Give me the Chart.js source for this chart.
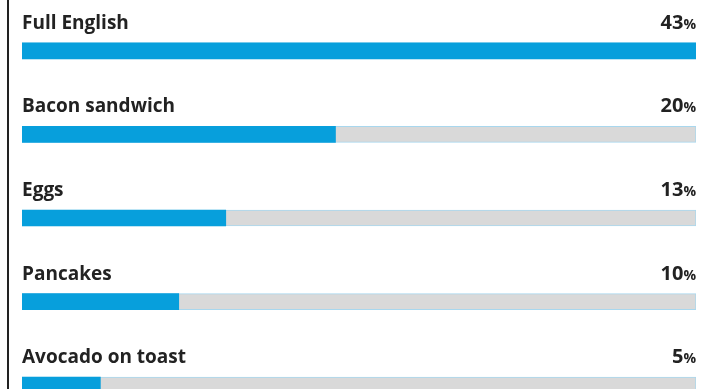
<!DOCTYPE html>
<html>
<head>
<meta charset="utf-8">
<style>
    html, body { margin: 0; padding: 0; background: #fff; overflow: hidden; }
    #wrap { position: relative; width: 716px; height: 389px; overflow: hidden; }
    #rule { position: absolute; left: 7px; top: 0; width: 1.5px; height: 389px; background: #222; }
    #box { position: absolute; left: 0; top: 0; width: 716px; height: 427px; }
</style>
</head>
<body>
<div id="wrap">
    <div id="rule"></div>
    <div id="box"><canvas id="breakfastChart"></canvas></div>
</div>
<script src="https://cdn.jsdelivr.net/npm/chart.js"></script>
<script>
    (() => {
        const dishes = ['Full English', 'Bacon sandwich', 'Eggs', 'Pancakes', 'Avocado on toast'];
        const shares = [43, 20, 13, 10, 5];
        const trackMax = 43;

        const blue = '#079fdc';
        const ink = '#222222';
        const font = '"Open Sans", "Liberation Sans", sans-serif';

        // name above each bar on the left, share on the right
        const barLabels = {
            id: 'barLabels',
            afterDatasetsDraw(chart) {
                const ctx = chart.ctx;
                const area = chart.chartArea;
                const bars = chart.getDatasetMeta(0).data;
                ctx.save();
                ctx.fillStyle = ink;
                ctx.textBaseline = 'alphabetic';
                bars.forEach((bar, i) => {
                    const base = bar.y - bar.height / 2 - 14;
                    ctx.font = 'bold 19px ' + font;
                    ctx.textAlign = 'left';
                    ctx.fillText(dishes[i], area.left, base);

                    ctx.font = 'bold 14px ' + font;
                    ctx.textAlign = 'right';
                    ctx.fillText('%', area.right, base);
                    const pw = ctx.measureText('%').width;
                    ctx.font = 'bold 20px ' + font;
                    ctx.fillText(String(shares[i]), area.right - pw, base);
                });
                ctx.restore();
            }
        };

        const ctx = document.getElementById('breakfastChart').getContext('2d');
        new Chart(ctx, {
            type: 'bar',
            data: {
                labels: dishes,
                datasets: [{
                    data: shares,
                    backgroundColor: blue,
                    borderWidth: 0,
                    grouped: false,
                    barThickness: 16
                }, {
                    data: dishes.map(() => trackMax),
                    backgroundColor: '#d9d9d9',
                    borderColor: '#a8d7ee',
                    borderWidth: 1,
                    borderSkipped: false,
                    grouped: false,
                    barThickness: 16
                }]
            },
            options: {
                indexAxis: 'y',
                responsive: true,
                maintainAspectRatio: false,
                animation: false,
                layout: { padding: { left: 22, right: 20, top: 9, bottom: 0 } },
                plugins: {
                    legend: { display: false },
                    tooltip: { enabled: false }
                },
                scales: {
                    x: { min: 0, max: trackMax, display: false },
                    y: { display: false }
                }
            },
            plugins: [barLabels]
        });
    })();
</script>
</body>
</html>
